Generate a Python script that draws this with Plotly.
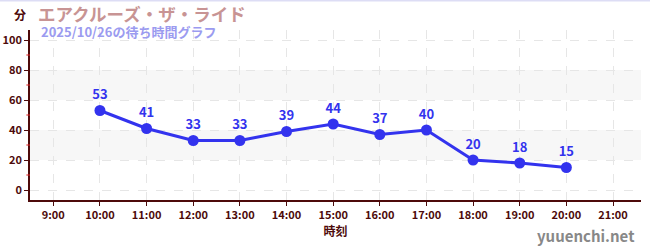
import plotly.graph_objects as go

hours = [10, 11, 12, 13, 14, 15, 16, 17, 18, 19, 20]
waits = [53, 41, 33, 33, 39, 44, 37, 40, 20, 18, 15]
tick_hours = list(range(9, 22))
tick_labels = [f"{h}:00" for h in tick_hours]
y_ticks = [0, 20, 40, 60, 80, 100]
bands = [(20, 40), (60, 80)]

title = "エアクルーズ・ザ・ライド"
subtitle = "2025/10/26の待ち時間グラフ"

FONT = "Noto Sans CJK JP"
AXC = "#4d0a0a"

fig = go.Figure()
fig.add_trace(go.Scatter(
    x=hours, y=waits, mode="lines+markers+text",
    text=[str(v) for v in waits], textposition="top center",
    textfont=dict(color="#3333ee", size=13, family=FONT, weight="bold"),
    line=dict(color="#3333ee", width=3),
    marker=dict(color="#3333ee", size=11),
    cliponaxis=False, hoverinfo="skip",
))

shapes = []
for a, b in bands:
    shapes.append(dict(type="rect", xref="paper", yref="y", x0=0, x1=1, y0=a, y1=b,
                       fillcolor="#f7f7f7", line=dict(width=0), layer="below"))
# minor red ticks on y axis
for v in [10, 30, 50, 70, 90]:
    shapes.append(dict(type="line", xref="paper", yref="y", x0=-0.006, x1=0, y0=v, y1=v,
                       line=dict(color="#dd2222", width=1)))
# top border line
shapes.append(dict(type="line", xref="paper", yref="paper", x0=-0.05, x1=1.02, y0=1.174, y1=1.174,
                   line=dict(color="#ddddf5", width=2)))

fig.update_layout(
    width=650, height=250,
    margin=dict(l=30, r=9, t=30, b=50),
    paper_bgcolor="white", plot_bgcolor="white",
    showlegend=False,
    shapes=shapes,
    font=dict(family=FONT, color=AXC),
    xaxis=dict(
        range=[8.5, 21.6], tickvals=tick_hours, ticktext=tick_labels,
        showgrid=True, gridcolor="#e6e6e6", griddash="dash", gridwidth=1,
        showline=True, linecolor=AXC, linewidth=1.5,
        ticks="outside", ticklen=4, tickcolor=AXC,
        tickfont=dict(size=11, color=AXC, family=FONT, weight="bold"),
        title=dict(text="時刻", font=dict(size=12, color=AXC, family=FONT, weight="bold"), standoff=7),
        zeroline=False, automargin=False,
    ),
    yaxis=dict(
        range=[-6.67, 106.67], tickvals=y_ticks,
        showgrid=True, gridcolor="#e6e6e6", griddash="dash", gridwidth=1,
        showline=True, linecolor=AXC, linewidth=1.5,
        ticks="outside", ticklen=4, tickcolor=AXC,
        tickfont=dict(size=11, color=AXC, family=FONT, weight="bold"),
        zeroline=False, automargin=False,
    ),
    annotations=[
        dict(text="分", xref="paper", yref="paper", x=0, y=1.0, xshift=-2, yshift=16, xanchor="right", yanchor="middle",
             showarrow=False, font=dict(size=12, color=AXC, family=FONT, weight="bold")),
        dict(text=title, xref="paper", yref="paper", x=0.0, y=1.0, xshift=6, yshift=17, xanchor="left", yanchor="middle",
             showarrow=False, font=dict(size=17.5, color="#c89494", family=FONT, weight="bold")),
        dict(text=subtitle, xref="paper", yref="paper", x=0.0, y=1.0, xshift=9, yshift=-1, xanchor="left", yanchor="middle",
             showarrow=False, font=dict(size=13, color="#9b9bf0", family=FONT, weight="bold")),
        dict(text="yuuenchi.net", xref="paper", yref="paper", x=1.0, y=0, yshift=-35, xshift=-4, xanchor="right", yanchor="middle",
             showarrow=False, font=dict(size=15, color="#888888", family=FONT, weight="bold")),
    ],
)

fig.write_html("out.html")
